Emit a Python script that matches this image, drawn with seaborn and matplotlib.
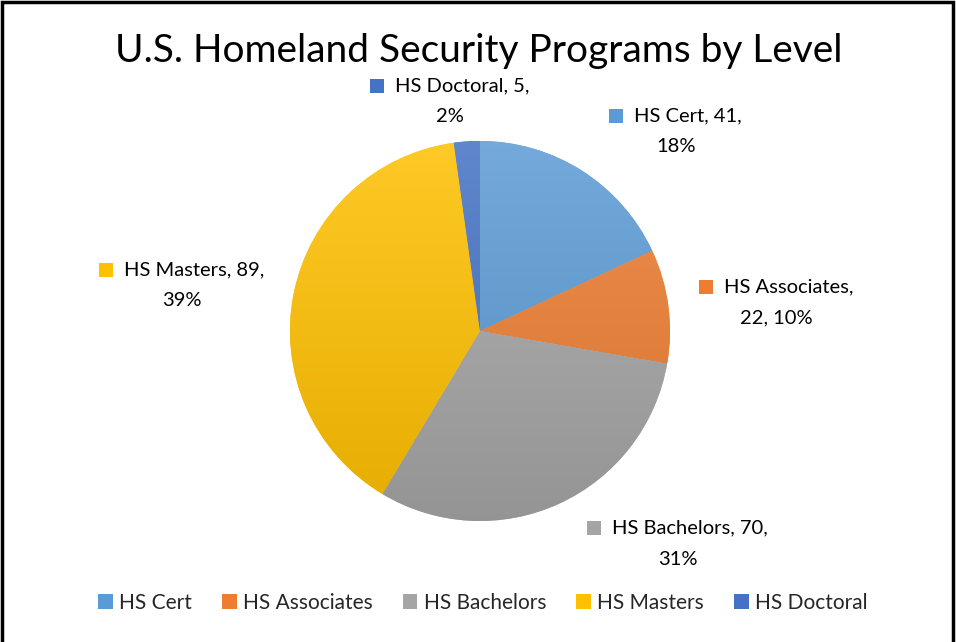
import numpy as np
import matplotlib
matplotlib.use("Agg")
import matplotlib.pyplot as plt
from matplotlib.patches import Rectangle
from matplotlib.offsetbox import AnnotationBbox, DrawingArea, HPacker, TextArea, VPacker
import matplotlib.colors as mcolors
import seaborn as sns

# data
levels = ["HS Cert", "HS Associates", "HS Bachelors", "HS Masters", "HS Doctoral"]
counts = [41, 22, 70, 89, 5]
title = "U.S. Homeland Security Programs by Level"

# style
colors = sns.color_palette(["#5B9BD5", "#ED7D31", "#A5A5A5", "#FFC000", "#4472C4"])
# label box centres, in units of the pie radius
label_pos = [(1.03, 1.05), (1.56, 0.15), (1.04, -1.12), (-1.57, 0.24), (-0.16, 1.21)]

sns.set_theme(style="white")
plt.rcParams["font.family"] = ["Lato", "DejaVu Sans"]

fig = plt.figure(figsize=(9.56, 6.42), dpi=100)
ax = fig.add_axes([0.3033, 0.1885, 0.3975, 0.5919])

wedges, _ = ax.pie(counts, colors=colors, startangle=90, counterclock=False,
                   wedgeprops=dict(linewidth=0))

# Excel-like vertical gradient on each slice
for w, c in zip(wedges, colors):
    c = np.array(mcolors.to_rgb(c))
    top = c + (1 - c) * 0.15
    bot = c * 0.90
    t = np.linspace(0, 1, 256)[:, None]
    grad = (top[None, :] * (1 - t) + bot[None, :] * t)[:, None, :]
    im = ax.imshow(grad, extent=(-1, 1, -1, 1), origin="upper", aspect="auto",
                   zorder=w.get_zorder() + 0.1)
    im.set_clip_path(w)
ax.set_xlim(-1, 1)
ax.set_ylim(-1, 1)
ax.set_aspect("equal")

total = sum(counts)
for lvl, n, c, (lx, ly) in zip(levels, counts, colors, label_pos):
    pct = round(100 * n / total)
    if lvl == "HS Associates":
        line1, line2 = f"{lvl},", f"{n}, {pct}%"
    else:
        line1, line2 = f"{lvl}, {n},", f"{pct}%"
    sq = DrawingArea(10, 10, 0, 0)
    sq.add_artist(Rectangle((0, 0), 10, 10, facecolor=c, edgecolor="none"))
    row = HPacker(children=[sq, TextArea(line1, textprops=dict(fontsize=14.5, color="#000000"))],
                  align="center", pad=0, sep=8)
    box = VPacker(children=[row, TextArea(line2, textprops=dict(fontsize=14.5, color="#000000"))],
                  align="center", pad=0, sep=10)
    ab = AnnotationBbox(box, (lx, ly), xycoords=ax.transData, frameon=False,
                        box_alignment=(0.5, 0.5), annotation_clip=False)
    fig.add_artist(ab)

fig.text(0.501, 1 - 51 / 642, title, ha="center", va="center", fontsize=28, color="#000000")

fig.legend(wedges, levels, loc="center", bbox_to_anchor=(0.505, 1 - 603 / 642), ncol=5,
           frameon=False, fontsize=15, handlelength=0.7, handleheight=0.7,
           handletextpad=0.3, columnspacing=1.45)

fig.add_artist(Rectangle((2 / 956, -0.05), 951 / 956, 1.05 - 2 / 642, transform=fig.transFigure,
                         fill=False, edgecolor="black", linewidth=2.5))

fig.savefig("out.png", dpi=100, facecolor="white")
